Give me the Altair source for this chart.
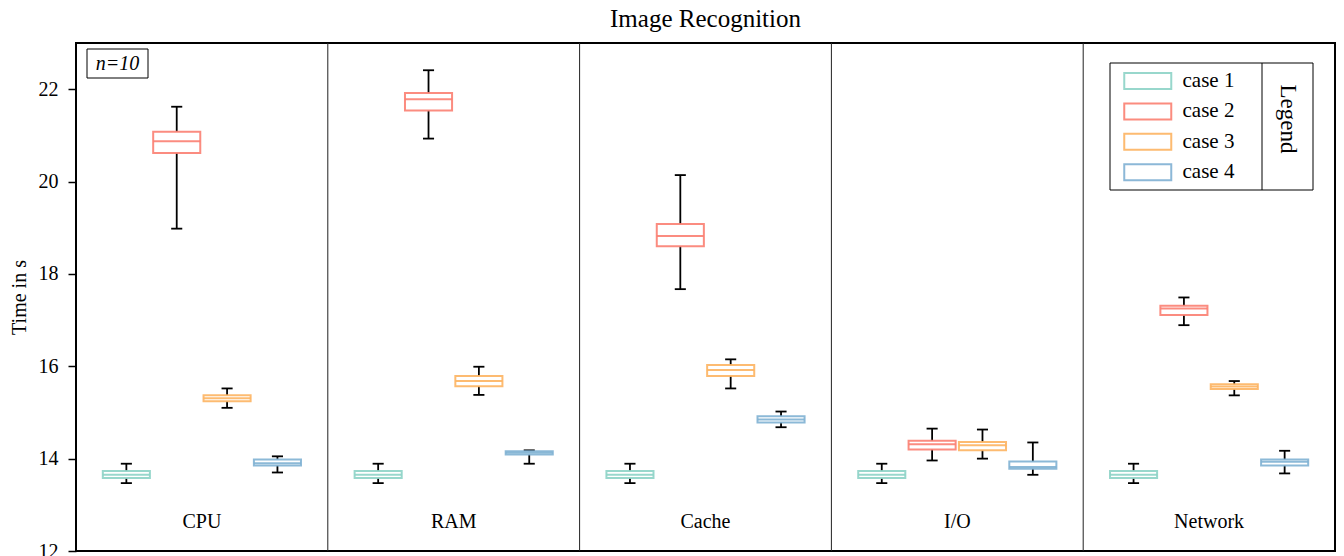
import altair as alt
import pandas as pd

title_text = "Image Recognition"
components = ["CPU", "RAM", "Cache", "I/O", "Network"]
cases = ["case 1", "case 2", "case 3", "case 4"]
colors = ["#8dd3c7", "#fb8072", "#fdb462", "#80b1d3"]

# per component: [case1, case2, case3, case4]
whisker_low = [
    [13.47, 18.98, 15.10, 13.70],
    [13.47, 20.93, 15.38, 13.89],
    [13.47, 17.67, 15.52, 14.68],
    [13.47, 13.96, 14.00, 13.65],
    [13.47, 16.89, 15.37, 13.68],
]
q1 = [
    [13.58, 20.62, 15.24, 13.85],
    [13.58, 21.54, 15.57, 14.09],
    [13.58, 18.60, 15.79, 14.78],
    [13.58, 14.20, 14.18, 13.78],
    [13.58, 17.11, 15.51, 13.85],
]
median = [
    [13.65, 20.87, 15.31, 13.90],
    [13.65, 21.78, 15.68, 14.13],
    [13.65, 18.82, 15.92, 14.85],
    [13.65, 14.31, 14.29, 13.82],
    [13.65, 17.25, 15.56, 13.93],
]
q3 = [
    [13.73, 21.08, 15.37, 13.98],
    [13.73, 21.92, 15.79, 14.16],
    [13.73, 19.08, 16.03, 14.92],
    [13.73, 14.39, 14.36, 13.94],
    [13.73, 17.31, 15.61, 13.98],
]
whisker_high = [
    [13.89, 21.62, 15.52, 14.05],
    [13.89, 22.41, 15.99, 14.18],
    [13.89, 20.14, 16.15, 15.02],
    [13.89, 14.65, 14.63, 14.35],
    [13.89, 17.49, 15.68, 14.17],
]
y_ticks = [12, 14, 16, 18, 20, 22]
separators = [1, 2, 3, 4]

FONT = "Liberation Serif"
BOX_HALF = 0.0935
CAP_HALF = 0.022
W, H = 1259, 508

rows = []
for i, comp in enumerate(components):
    for j, case in enumerate(cases):
        pos = i + 0.2 * (j + 1)
        rows.append({
            "component": comp, "case": case, "pos": pos,
            "xl": pos - BOX_HALF, "xr": pos + BOX_HALF,
            "cl": pos - CAP_HALF, "cr": pos + CAP_HALF,
            "lo": whisker_low[i][j], "q1": q1[i][j], "med": median[i][j],
            "q3": q3[i][j], "hi": whisker_high[i][j],
        })
df = pd.DataFrame(rows)
labels_df = pd.DataFrame({"component": components,
                          "x": [i + 0.5 for i in range(len(components))],
                          "y": [12.5] * len(components)})
sep_df = pd.DataFrame({"x": separators})

xs = alt.Scale(domain=[0, 5], nice=False, zero=False)
ys = alt.Scale(domain=[12, 23], nice=False, zero=False)
stroke_scale = alt.Scale(domain=cases, range=colors)

base = alt.Chart(df)

sep = alt.Chart(sep_df).mark_rule(color="#222222", strokeWidth=1).encode(
    x=alt.X("x:Q", scale=xs, axis=None),
    y=alt.value(0), y2=alt.value(H))

whisk = base.mark_rule(color="black", strokeWidth=1.8).encode(
    x=alt.X("pos:Q", scale=xs, axis=None),
    y=alt.Y("lo:Q", scale=ys,
            axis=alt.Axis(values=y_ticks, title="Time in s")),
    y2="hi:Q")

cap_lo = base.mark_rule(color="black", strokeWidth=1.8).encode(
    x=alt.X("cl:Q", scale=xs, axis=None), x2="cr:Q",
    y=alt.Y("lo:Q", scale=ys))
cap_hi = base.mark_rule(color="black", strokeWidth=1.8).encode(
    x=alt.X("cl:Q", scale=xs, axis=None), x2="cr:Q",
    y=alt.Y("hi:Q", scale=ys))

# legend frame drawn behind the native legend entries
LX0, LX1, LY0, LY1 = 1034, 1237, 20, 147
leg_frame = alt.Chart(pd.DataFrame({"t": [0]})).mark_rect(
    fill="white", stroke="black", strokeWidth=1).encode(
    x=alt.value(LX0), x2=alt.value(LX1), y=alt.value(LY0), y2=alt.value(LY1))
leg_sep = alt.Chart(pd.DataFrame({"t": [0]})).mark_rule(
    color="black", strokeWidth=1).encode(
    x=alt.value(LX0 + 152), y=alt.value(LY0), y2=alt.value(LY1))
leg_title = alt.Chart(pd.DataFrame({"t": ["Legend"]})).mark_text(
    font=FONT, fontSize=23, color="black", angle=90,
    align="center", baseline="middle").encode(
    x=alt.value(LX0 + 178), y=alt.value(76), text="t:N")

box = base.mark_rect(fill="white", strokeWidth=2, strokeOpacity=0.9).encode(
    x=alt.X("xl:Q", scale=xs, axis=None), x2="xr:Q",
    y=alt.Y("q1:Q", scale=ys), y2="q3:Q",
    stroke=alt.Stroke("case:N", scale=stroke_scale,
                      legend=alt.Legend(
                          title=None, orient="none",
                          legendX=LX0 + 24.75, legendY=25,
                          labelFontSize=21, labelFont=FONT,
                          labelColor="black", labelOffset=21.75,
                          symbolType="M-2,-0.68L2,-0.68L2,0.68L-2,0.68Z",
                          symbolSize=552.25, symbolStrokeWidth=2,
                          symbolFillColor="white", symbolOpacity=0.9,
                          rowPadding=5.4, padding=0)))

med = base.mark_rule(strokeWidth=2, strokeOpacity=0.9).encode(
    x=alt.X("xl:Q", scale=xs, axis=None), x2="xr:Q",
    y=alt.Y("med:Q", scale=ys),
    stroke=alt.Stroke("case:N", scale=stroke_scale, legend=None))

cat_text = alt.Chart(labels_df).mark_text(
    font=FONT, fontSize=20, color="black", baseline="alphabetic").encode(
    x=alt.X("x:Q", scale=xs, axis=None),
    y=alt.Y("y:Q", scale=ys),
    text="component:N")

n_box = alt.Chart(pd.DataFrame({"t": ["n=10"]})).mark_rect(
    fill="white", stroke="black", strokeWidth=1).encode(
    x=alt.value(11), x2=alt.value(72), y=alt.value(6), y2=alt.value(35))
n_text = alt.Chart(pd.DataFrame({"t": ["n=10"]})).mark_text(
    font=FONT, fontSize=20, fontStyle="italic", color="black",
    baseline="middle").encode(
    x=alt.value(41.5), y=alt.value(21), text="t:N")

title_mark = alt.Chart(pd.DataFrame({"t": [title_text]})).mark_text(
    font=FONT, fontSize=25, color="black", align="center",
    baseline="alphabetic").encode(
    x=alt.value(W / 2), y=alt.value(-16), text="t:N")

chart = alt.layer(sep, whisk, cap_lo, cap_hi, box, med, cat_text,
                  n_box, n_text, leg_frame, leg_sep, leg_title,
                  title_mark).properties(
    width=W, height=H,
    padding={"left": 68, "top": 35, "right": 1, "bottom": 20},
    autosize=alt.AutoSizeParams(type="none"),
).configure_view(stroke="black", strokeWidth=2).configure_axis(
    grid=False, domain=False, tickColor="black", tickWidth=1.5,
    tickSize=8, labelFont=FONT, labelFontSize=20, labelColor="black",
    labelPadding=10, titleFont=FONT, titleFontSize=20,
    titleFontWeight="normal", titleColor="black",
    titleX=-51, titleY=254, titleBaseline="alphabetic", titleAngle=270,
    titleAlign="center")

chart.save("out.html", embed_options={"renderer": "svg", "actions": False})
